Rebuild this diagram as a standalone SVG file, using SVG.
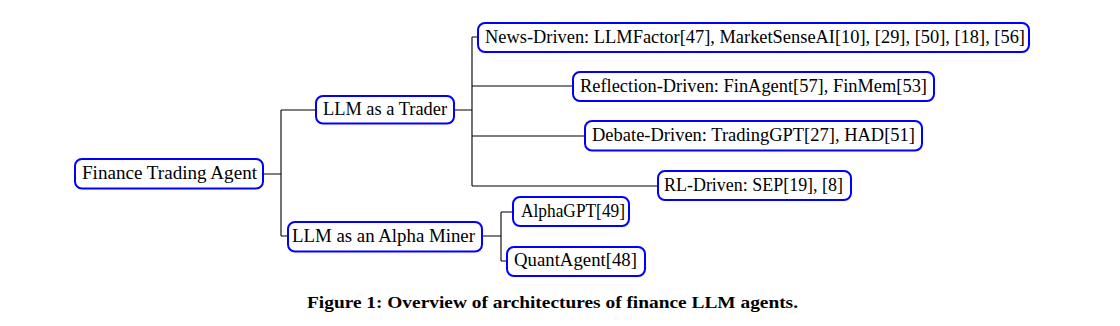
<svg xmlns="http://www.w3.org/2000/svg" width="1120" height="326" viewBox="0 0 1120 326">
<style>
.box{fill:#ffffff;stroke:#0000ff;stroke-width:2;}
.lbl{font-family:"Liberation Serif","Times New Roman",serif;font-size:19px;fill:#000;}
.cap{font-family:"Liberation Serif","Times New Roman",serif;font-size:16.5px;font-weight:bold;fill:#000;}
.edge{fill:none;stroke:#000;stroke-width:1.1;}
</style>
<rect width="1120" height="326" fill="#ffffff"/>
<g id="connectors">
<path class="edge" d="M263,174 H281 M281,110 V236 M281,110 H316 M281,236 H288"/>
<path class="edge" d="M454,110 H472 M472,37 V186 M472,37 H478 M472,86 H573 M472,136 H585 M472,186 H658"/>
<path class="edge" d="M482,236 H501 M501,212 V261 M501,212 H513 M501,261 H507"/>
</g>
<g id="n-fta"><rect class="box" x="75" y="159" width="188" height="29.5" rx="7"/><text class="lbl" x="82" y="179" textLength="175" lengthAdjust="spacingAndGlyphs">Finance Trading Agent</text></g>
<g id="n-trader"><rect class="box" x="316" y="96" width="138" height="27.5" rx="7"/><text class="lbl" x="323" y="115" textLength="124" lengthAdjust="spacingAndGlyphs">LLM as a Trader</text></g>
<g id="n-miner"><rect class="box" x="288" y="222" width="194" height="29.5" rx="7"/><text class="lbl" x="292" y="241.5" textLength="183" lengthAdjust="spacingAndGlyphs">LLM as an Alpha Miner</text></g>
<g id="n-news"><rect class="box" x="478" y="23" width="551" height="29" rx="7"/><text class="lbl" x="485" y="42.5" textLength="540" lengthAdjust="spacingAndGlyphs">News-Driven: LLMFactor[47], MarketSenseAI[10], [29], [50], [18], [56]</text></g>
<g id="n-reflection"><rect class="box" x="573" y="72" width="361" height="29" rx="7"/><text class="lbl" x="580" y="91.5" textLength="347" lengthAdjust="spacingAndGlyphs">Reflection-Driven: FinAgent[57], FinMem[53]</text></g>
<g id="n-debate"><rect class="box" x="585" y="121" width="337" height="29.5" rx="7"/><text class="lbl" x="592" y="140.5" textLength="323" lengthAdjust="spacingAndGlyphs">Debate-Driven: TradingGPT[27], HAD[51]</text></g>
<g id="n-rl"><rect class="box" x="658" y="171" width="193" height="29" rx="7"/><text class="lbl" x="664" y="190.5" textLength="179" lengthAdjust="spacingAndGlyphs">RL-Driven: SEP[19], [8]</text></g>
<g id="n-alphagpt"><rect class="box" x="513" y="197" width="116" height="29" rx="7"/><text class="lbl" x="521" y="216.5" textLength="104" lengthAdjust="spacingAndGlyphs">AlphaGPT[49]</text></g>
<g id="n-quant"><rect class="box" x="507" y="247" width="138" height="29" rx="7"/><text class="lbl" x="514" y="266" textLength="123" lengthAdjust="spacingAndGlyphs">QuantAgent[48]</text></g>
<text class="cap" x="307" y="308" textLength="491" lengthAdjust="spacingAndGlyphs">Figure 1: Overview of architectures of finance LLM agents.</text>
</svg>
